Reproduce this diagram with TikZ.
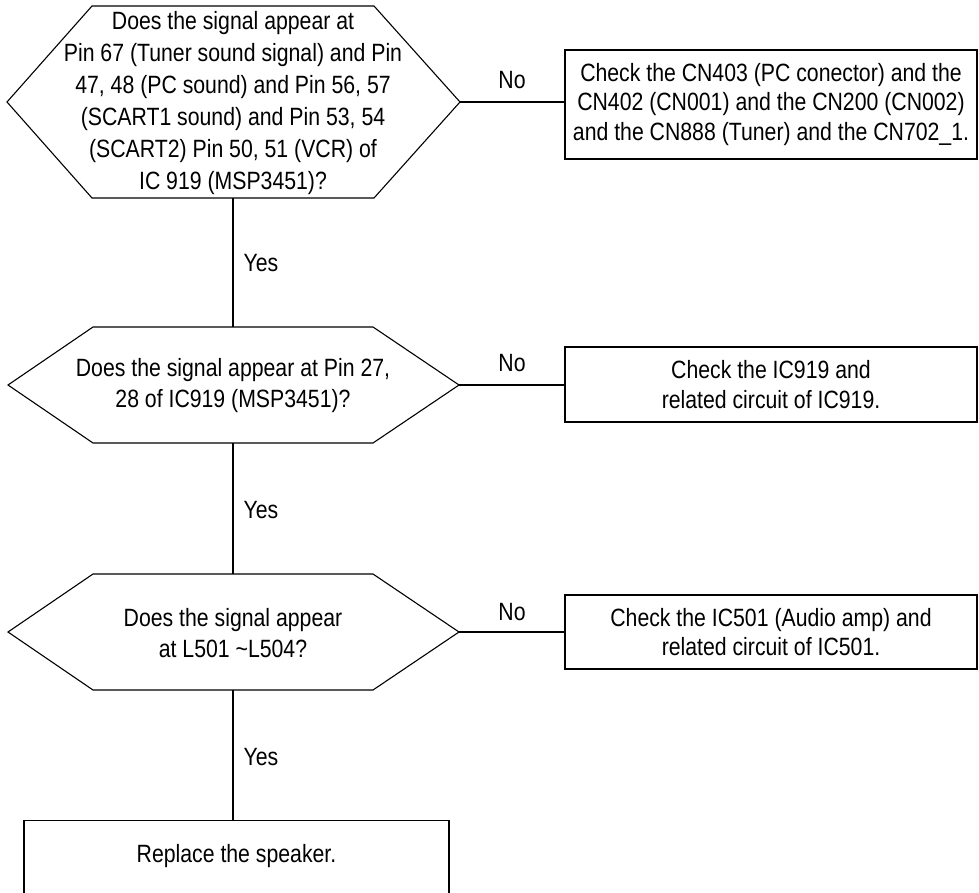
\documentclass[tikz,border=0pt]{standalone}
\usepackage{fontspec}
\setmainfont{Liberation Sans}[FakeStretch=0.85]
\begin{document}
\begin{tikzpicture}[x=1pt,y=-1pt,line width=1.1pt,
  txt/.style={font=\fontsize{25}{31}\selectfont, align=center, inner sep=0pt},
  box/.style={draw, minimum width=412, font=\fontsize{25}{29.5}\selectfont, align=center, inner sep=0pt},
  lbl/.style={font=\fontsize{25}{28}\selectfont, inner sep=0pt}]
\useasboundingbox (0,0) rectangle (979,893);
% hexagon 1
\coordinate (h1w) at (7,102);
\coordinate (h1e) at (460,102);
\coordinate (h1s) at (233,198);
\draw (h1w) -- (92,6) -- (374,6) -- (h1e) -- (374,198) -- (92,198) -- cycle;
\node[txt, font=\fontsize{25}{32}\selectfont] (q1) at (233,103) {Does the signal appear at\\Pin 67 (Tuner sound signal) and Pin\\47, 48 (PC sound) and Pin 56, 57\\(SCART1 sound) and Pin 53, 54\\(SCART2) Pin 50, 51 (VCR) of\\IC 919 (MSP3451)?};
% hexagon 2
\coordinate (h2w) at (8,385);
\coordinate (h2e) at (459,385);
\coordinate (h2n) at (233,327);
\coordinate (h2s) at (233,443);
\draw (h2w) -- (93,327) -- (373,327) -- (h2e) -- (373,443) -- (93,443) -- cycle;
\node[txt] (q2) at (233,386) {Does the signal appear at Pin 27,\\28 of IC919 (MSP3451)?};
% hexagon 3
\coordinate (h3w) at (8,632);
\coordinate (h3e) at (459,632);
\coordinate (h3n) at (233,574);
\coordinate (h3s) at (233,690);
\draw (h3w) -- (93,574) -- (373,574) -- (h3e) -- (373,690) -- (93,690) -- cycle;
\node[txt] (q3) at (233,633) {Does the signal appear\\at L501 \textasciitilde L504?};
% boxes
\node[box, minimum height=109] (b1) at (771,104.5) {Check the CN403 (PC conector) and the\\CN402 (CN001) and the CN200 (CN002)\\and the CN888 (Tuner) and the CN702\_1.};
\node[box, minimum height=75] (b2) at (771,384.5) {Check the IC919 and\\related circuit of IC919.};
\node[box, minimum height=74] (b3) at (771,632) {Check the IC501 (Audio amp) and\\related circuit of IC501.};
\node[draw, minimum width=425, minimum height=110, anchor=north, inner sep=0pt] (b4) at (236.5,820) {};
\node[txt] (b4t) at (236.5,856) {Replace the speaker.};
% connectors
\draw (h1e) -- (h1e -| b1.west);
\draw (h2e) -- (h2e -| b2.west);
\draw (h3e) -- (h3e -| b3.west);
\draw (h1s) -- (h2n);
\draw (h2s) -- (h3n);
\draw (h3s) -- (h3s |- b4.north);
% labels
\node[lbl] (no1) at (512,80) {No};
\node[lbl] (no2) at (512,363) {No};
\node[lbl] (no3) at (512,612) {No};
\node[lbl, anchor=west] (yes1) at (243,263) {Yes};
\node[lbl, anchor=west] (yes2) at (243,510) {Yes};
\node[lbl, anchor=west] (yes3) at (243,757) {Yes};
\end{tikzpicture}
\end{document}
